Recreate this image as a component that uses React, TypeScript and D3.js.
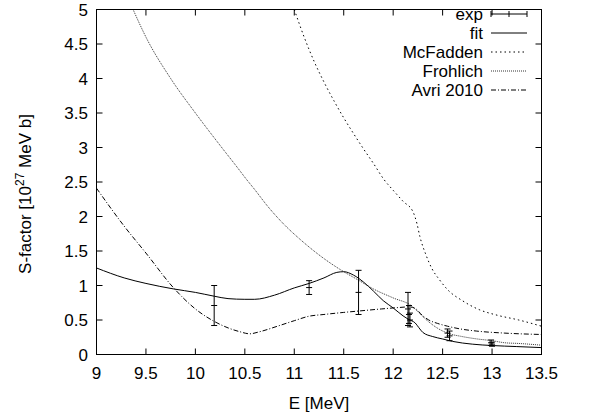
import React from 'react';
import * as d3 from 'd3';

// ---- data ----
const xTickValues = [9, 9.5, 10, 10.5, 11, 11.5, 12, 12.5, 13, 13.5];
const xTickLabels = ['9', '9.5', '10', '10.5', '11', '11.5', '12', '12.5', '13', '13.5'];
const yTickValues = [0, 0.5, 1, 1.5, 2, 2.5, 3, 3.5, 4, 4.5, 5];
const yTickLabels = ['0', '0.5', '1', '1.5', '2', '2.5', '3', '3.5', '4', '4.5', '5'];

const expE = [10.19, 11.15, 11.65, 12.15, 12.16, 12.17, 12.55, 12.57, 12.99, 13.0];
const expS = [0.71, 0.97, 0.9, 0.66, 0.58, 0.5, 0.31, 0.27, 0.17, 0.15];
const expErr = [0.29, 0.1, 0.32, 0.24, 0.13, 0.1, 0.06, 0.07, 0.04, 0.03];

const fitE = [9.0, 9.28, 9.5, 9.78, 10.0, 10.19, 10.33, 10.5, 10.6, 10.8, 11.0, 11.15, 11.3, 11.43, 11.5, 11.6, 11.7, 11.8, 11.9, 12.0, 12.1, 12.16, 12.22, 12.27, 12.3, 12.4, 12.5, 12.6, 12.8, 13.0, 13.25, 13.5];
const fitS = [1.254, 1.11, 1.03, 0.95, 0.9, 0.845, 0.81, 0.8, 0.8, 0.86, 0.965, 1.03, 1.11, 1.19, 1.2, 1.15, 1.05, 0.92, 0.78, 0.675, 0.56, 0.506, 0.46, 0.37, 0.32, 0.26, 0.225, 0.19, 0.15, 0.13, 0.115, 0.1];

const mcfE = [11.0, 11.1, 11.2, 11.3, 11.4, 11.5, 11.6, 11.7, 11.8, 11.91, 12.0, 12.1, 12.2, 12.24, 12.27, 12.33, 12.39, 12.47, 12.55, 12.7, 12.87, 13.05, 13.27, 13.5];
const mcfS = [5.0, 4.6, 4.25, 3.95, 3.68, 3.43, 3.2, 2.98, 2.77, 2.53, 2.38, 2.22, 2.07, 1.9, 1.71, 1.45, 1.25, 1.08, 0.94, 0.78, 0.65, 0.57, 0.5, 0.41];

const froE = [9.37, 9.5, 9.75, 10.0, 10.25, 10.43, 10.51, 10.6, 10.73, 10.9, 11.05, 11.31, 11.5, 11.64, 11.8, 12.0, 12.19, 12.25, 12.33, 12.45, 12.57, 12.68, 12.84, 13.0, 13.13, 13.27, 13.5];
const froS = [5.0, 4.6, 4.0, 3.5, 3.03, 2.7, 2.55, 2.39, 2.15, 1.88, 1.68, 1.38, 1.2, 1.085, 0.95, 0.82, 0.7, 0.62, 0.51, 0.38, 0.3, 0.265, 0.227, 0.2, 0.17, 0.16, 0.135];

const avrE = [9.0, 9.28, 9.5, 9.78, 10.0, 10.19, 10.33, 10.45, 10.55, 10.65, 10.83, 11.0, 11.15, 11.3, 11.5, 11.65, 11.88, 12.05, 12.16, 12.22, 12.3, 12.36, 12.45, 12.55, 12.68, 12.84, 13.13, 13.5];
const avrS = [2.41, 1.86, 1.47, 0.965, 0.66, 0.48, 0.386, 0.33, 0.3, 0.33, 0.41, 0.49, 0.555, 0.58, 0.61, 0.63, 0.66, 0.68, 0.69, 0.67, 0.56, 0.5, 0.45, 0.41, 0.37, 0.34, 0.31, 0.29];

const legendLabels = ['exp', 'fit', 'McFadden', 'Frohlich', 'Avri 2010'];

const FONT = '"Liberation Sans", Arial, Helvetica, sans-serif';
const FS = 17;

export default function App() {
  const x = d3.scaleLinear().domain([9, 13.5]).range([96.5, 541.5]);
  const y = d3.scaleLinear().domain([0, 5]).range([354.5, 9.5]);
  const [x0, x1] = x.range();
  const [y0, y1] = y.range();

  const line = d3
    .line<[number, number]>()
    .x((d) => x(d[0]))
    .y((d) => y(d[1]))
    .curve(d3.curveMonotoneX);

  const zip = (a: number[], b: number[]) => a.map((v, i) => [v, b[i]] as [number, number]);

  const series = [
    { pts: zip(fitE, fitS), dash: undefined as string | undefined, color: '#000' },
    { pts: zip(mcfE, mcfS), dash: '1.5,3', color: '#000' },
    { pts: zip(froE, froS), dash: '1,1', color: '#333' },
    { pts: zip(avrE, avrS), dash: '5,2,1,2', color: '#000' },
  ];

  const tickLen = 6;
  const legendY = (i: number) => 14 + i * 19;
  const legTextX = 483;
  const legL = 491;
  const legR = 527;

  return (
    <svg
      width={591}
      height={416}
      style={{ position: 'absolute', left: 0, top: 0, background: '#fff' }}
      fontFamily={FONT}
    >
      <rect x={0} y={0} width={591} height={416} fill="#fff" />
      <defs>
        <clipPath id="plotclip">
          <rect x={x0} y={y1} width={x1 - x0} height={y0 - y1} />
        </clipPath>
      </defs>

      {/* ticks */}
      {xTickValues.map((v, i) => (
        <g key={'xt' + i}>
          <line x1={x(v)} x2={x(v)} y1={y0} y2={y0 - tickLen} stroke="#000" />
          <line x1={x(v)} x2={x(v)} y1={y1} y2={y1 + tickLen} stroke="#000" />
          <text x={x(v)} y={379} fontSize={FS} textAnchor="middle">
            {xTickLabels[i]}
          </text>
        </g>
      ))}
      {yTickValues.map((v, i) => (
        <g key={'yt' + i}>
          <line x1={x0} x2={x0 + tickLen} y1={y(v)} y2={y(v)} stroke="#000" />
          <line x1={x1} x2={x1 - tickLen} y1={y(v)} y2={y(v)} stroke="#000" />
          <text x={88} y={y(v)} dy="0.36em" fontSize={FS} textAnchor="end">
            {yTickLabels[i]}
          </text>
        </g>
      ))}

      {/* curves */}
      <g clipPath="url(#plotclip)">
        {series.map((s, i) => (
          <path
            key={'s' + i}
            d={line(s.pts) || ''}
            fill="none"
            stroke={s.color}
            strokeWidth={1}
            strokeDasharray={s.dash}
          />
        ))}
        {/* error bars */}
        {expE.map((e, i) => {
          const cx = x(e);
          const top = y(expS[i] + expErr[i]);
          const bot = y(expS[i] - expErr[i]);
          const cy = y(expS[i]);
          return (
            <g key={'e' + i} stroke="#000" strokeWidth={1}>
              <line x1={cx} x2={cx} y1={top} y2={bot} />
              <line x1={cx - 3} x2={cx + 3} y1={top} y2={top} />
              <line x1={cx - 3} x2={cx + 3} y1={bot} y2={bot} />
              <line x1={cx - 3} x2={cx + 3} y1={cy} y2={cy} />
            </g>
          );
        })}
      </g>

      {/* border */}
      <rect x={x0} y={y1} width={x1 - x0} height={y0 - y1} fill="none" stroke="#000" strokeWidth={1} />

      {/* legend */}
      {legendLabels.map((lab, i) => {
        const ly = legendY(i);
        return (
          <g key={'l' + i}>
            <text x={legTextX} y={ly} dy="0.36em" fontSize={FS} textAnchor="end">
              {lab}
            </text>
            {i === 0 ? (
              <g stroke="#000" strokeWidth={1}>
                <line x1={legL} x2={legR} y1={ly} y2={ly} />
                <line x1={legL} x2={legL} y1={ly - 3} y2={ly + 3} />
                <line x1={legR} x2={legR} y1={ly - 3} y2={ly + 3} />
                <line x1={(legL + legR) / 2} x2={(legL + legR) / 2} y1={ly - 3} y2={ly + 3} />
              </g>
            ) : (
              <line
                x1={legL}
                x2={legR}
                y1={ly}
                y2={ly}
                stroke={series[i - 1].color}
                strokeWidth={1}
                strokeDasharray={series[i - 1].dash}
              />
            )}
          </g>
        );
      })}

      {/* axis titles */}
      <text x={(x0 + x1) / 2} y={409} fontSize={FS} textAnchor="middle">
        E [MeV]
      </text>
      <text transform="translate(31,194) rotate(-90)" fontSize={FS} textAnchor="middle">
        S-factor [10
        <tspan dy={-7} fontSize={12}>27</tspan>
        <tspan dy={7}> MeV b]</tspan>
      </text>
    </svg>
  );
}
